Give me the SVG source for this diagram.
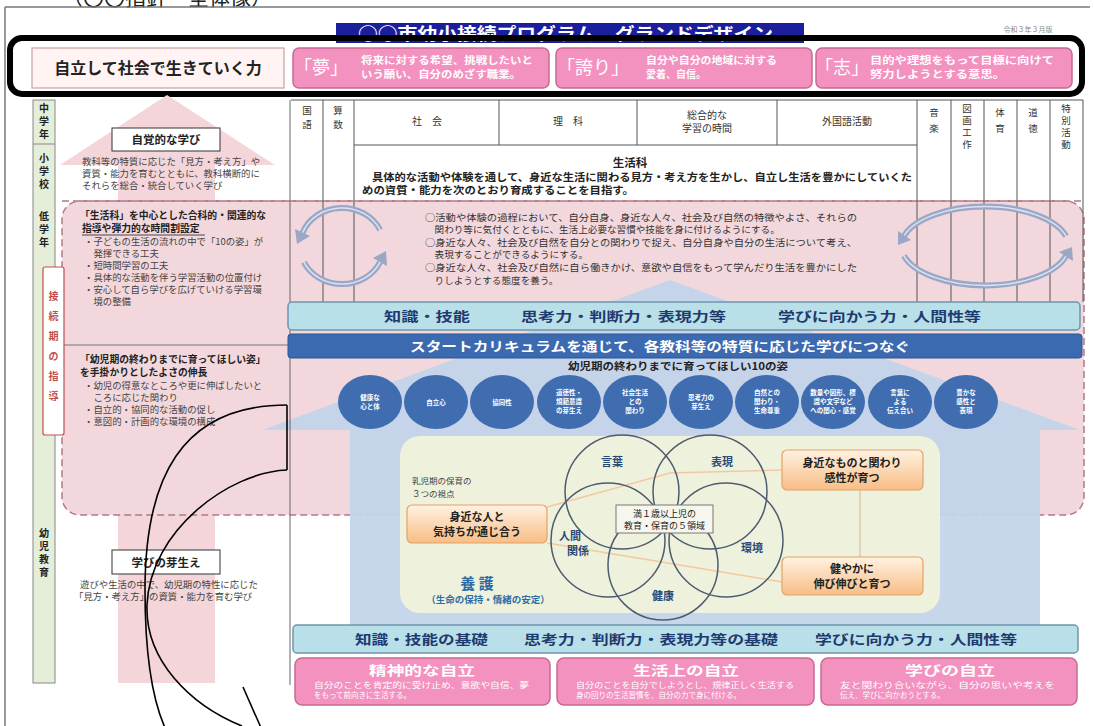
<svg xmlns="http://www.w3.org/2000/svg" width="1094" height="726" viewBox="0 0 1094 726">
<defs>
<style>
text{font-family:'Noto Sans CJK JP','Noto Sans',sans-serif;}
.b{font-weight:bold}
.dk{fill:#222}
.sm{font-size:9.4px;fill:#444}
.lh{font-size:9.8px;font-weight:bold;fill:#222}
.ob{font-size:9.6px;fill:#333}
.hd{font-size:10px;fill:#333}
.vh{font-size:9.5px;fill:#333;text-anchor:middle}
.wh{fill:#fff}
.pinkbox{fill:#f391bf;stroke:#c76a94;stroke-width:1.5}
.lbar{fill:#b9dfe9;stroke:#6f95ad;stroke-width:1.5}
.bt{font-size:13px;font-weight:bold;fill:#1e3a6e}
.circ{fill:#3f6db0}
.ctx{font-size:6.5px;fill:#fff;font-weight:bold;text-anchor:middle}
.venn{fill:none;stroke:#4d5b70;stroke-width:1.5}
.vl{font-size:11px;font-weight:bold;fill:#2a4a78;text-anchor:middle}
.orange{fill:url(#og);stroke:#e5a265;stroke-width:1.2}
.ot{font-size:11px;font-weight:bold;fill:#222;text-anchor:middle}
.col{stroke:#555;stroke-width:1;fill:none}
.cyc{fill:none;stroke:#9aa7c6;stroke-width:6}
.cyc2{fill:none;stroke:#dde3f0;stroke-width:1.5}
.ah{fill:#9aa7c6}
.blk{fill:none;stroke:#000;stroke-width:1.6}
.pt{font-size:10px;font-weight:bold;fill:#fff}
</style>
<linearGradient id="og" x1="0" y1="0" x2="0" y2="1">
<stop offset="0" stop-color="#fff2e2"/>
<stop offset="1" stop-color="#f8bd85"/>
</linearGradient>
</defs>
<rect width="1094" height="726" fill="#fff"/>

<g id="frame">
<text x="62" y="5" font-size="21" fill="#222">（〇〇指針　全体像）</text>
<line x1="5" y1="7" x2="1090" y2="7" stroke="#777" stroke-width="1.5"/>
<line x1="5" y1="7" x2="5" y2="726" stroke="#777" stroke-width="1.5"/>
</g>

<g id="banner">
<rect x="336" y="23" width="468" height="20" fill="#1c1f9c"/>
<text x="358" y="40" font-size="17" class="b wh" textLength="415" lengthAdjust="spacingAndGlyphs">○○市幼小接続プログラム　グランドデザイン</text>
<text x="1028" y="32" font-size="7" fill="#888" text-anchor="middle">令和３年３月版</text>
</g>

<g id="top-goal">
<rect x="32" y="48" width="252" height="40" fill="#fff3f3" stroke="#c9a0a0" stroke-width="1.2"/>
<text x="158" y="74" font-size="16" class="b dk" text-anchor="middle">自立して社会で生きていく力</text>
</g>
<g id="yume">
<rect class="pinkbox" x="293" y="48" width="256" height="40" rx="6"/>
<text x="294" y="74" font-size="18" class="wh">「夢」</text>
<text x="361" y="64" class="pt" textLength="172" lengthAdjust="spacingAndGlyphs">将来に対する希望、挑戦したいと</text>
<text x="361" y="78" class="pt" textLength="160" lengthAdjust="spacingAndGlyphs">いう願い、自分のめざす職業。</text>
</g>
<g id="hokori">
<rect class="pinkbox" x="556" y="48" width="256" height="40" rx="6"/>
<text x="557" y="74" font-size="18" class="wh">「誇り」</text>
<text x="646" y="64" class="pt" textLength="131" lengthAdjust="spacingAndGlyphs">自分や自分の地域に対する</text>
<text x="646" y="78" class="pt">愛着、自信。</text>
</g>
<g id="kokorozashi">
<rect class="pinkbox" x="816" y="48" width="256" height="40" rx="6"/>
<text x="815" y="74" font-size="18" class="wh">「志」</text>
<text x="870" y="64" class="pt" textLength="184" lengthAdjust="spacingAndGlyphs">目的や理想をもって目標に向けて</text>
<text x="870" y="78" class="pt" textLength="135" lengthAdjust="spacingAndGlyphs">努力しようとする意思。</text>
</g>
<rect id="highlight" x="10" y="38" width="1072" height="56" rx="12" fill="none" stroke="#000" stroke-width="6"/>

<g id="pink-arrow">
<polygon points="167,95 275,165 215,165 215,683 118,683 118,165 60,165" fill="#f4d6da"/>
</g>
<g id="link-region">
<rect x="62" y="201" width="1022" height="314" rx="18" fill="#f2d8dc" stroke="#b07a86" stroke-width="1.5" stroke-dasharray="7 4"/>
<line x1="62" y1="345" x2="290" y2="345" stroke="#777" stroke-width="1"/>
</g>
<g id="blue-arrow">
<polygon points="670,280 1080,430 1040,430 1040,625 350,625 350,430 262,430" fill="#c3d4ea" fill-opacity="0.95"/>
</g>

<g id="stage-column">
<rect x="33" y="100" width="22" height="583" fill="#e5eed9" stroke="#888" stroke-width="1"/>
<line x1="33" y1="144" x2="55" y2="144" stroke="#888"/>
<text class="b dk" font-size="10" text-anchor="middle"><tspan x="44" y="112">中</tspan><tspan x="44" y="125">学</tspan><tspan x="44" y="138">年</tspan></text>
<text class="b dk" font-size="10" text-anchor="middle"><tspan x="44" y="162">小</tspan><tspan x="44" y="175">学</tspan><tspan x="44" y="188">校</tspan></text>
<text class="b dk" font-size="10" text-anchor="middle"><tspan x="44" y="220">低</tspan><tspan x="44" y="233">学</tspan><tspan x="44" y="246">年</tspan></text>
<text class="b dk" font-size="10" text-anchor="middle"><tspan x="44" y="537">幼</tspan><tspan x="44" y="550">児</tspan><tspan x="44" y="563">教</tspan><tspan x="44" y="576">育</tspan></text>
<rect x="43" y="267" width="21" height="168" rx="2" fill="#fff" stroke="#c0504d" stroke-width="1.2"/>
<text class="b" font-size="10" fill="#c0504d" text-anchor="middle"><tspan x="53.5" y="300">接</tspan><tspan x="53.5" y="320">続</tspan><tspan x="53.5" y="340">期</tspan><tspan x="53.5" y="360">の</tspan><tspan x="53.5" y="380">指</tspan><tspan x="53.5" y="400">導</tspan></text>
</g>
<line x1="290" y1="100" x2="290" y2="685" stroke="#666" stroke-width="1"/>

<g id="jikakuteki">
<rect x="112" y="128" width="108" height="23" fill="#fff" stroke="#333" stroke-width="1"/>
<text x="166" y="144" font-size="11.5" class="b dk" text-anchor="middle">自覚的な学び</text>
<text x="82" y="165" class="sm">教科等の特質に応じた「見方・考え方」や</text>
<text x="82" y="177" class="sm">資質・能力を育むとともに、教科横断的に</text>
<text x="82" y="189" class="sm">それらを総合・統合していく学び</text>
</g>

<g id="seikatsuka-left">
<text x="80" y="219" class="lh">「生活科」を中心とした合科的・関連的な</text>
<text x="82" y="232" class="lh">指導や弾力的な時間割設定</text>
<line x1="82" y1="235" x2="205" y2="235" stroke="#222" stroke-width="0.8"/>
<text x="84" y="245" class="sm">・子どもの生活の流れの中で「10の姿」が</text>
<text x="84" y="257" class="sm">　発揮できる工夫</text>
<text x="84" y="269" class="sm">・短時間学習の工夫</text>
<text x="84" y="281" class="sm">・具体的な活動を伴う学習活動の位置付け</text>
<text x="84" y="293" class="sm">・安心して自ら学びを広げていける学習環</text>
<text x="84" y="305" class="sm">　境の整備</text>
</g>

<g id="yoji-left">
<text x="80" y="363" class="lh">「幼児期の終わりまでに育ってほしい姿」</text>
<text x="80" y="376" class="lh">を手掛かりとしたよさの伸長</text>
<text x="84" y="389" class="sm">・幼児の得意なところや更に伸ばしたいと</text>
<text x="84" y="401" class="sm">　ころに応じた関わり</text>
<text x="84" y="413" class="sm">・自立的・協同的な活動の促し</text>
<text x="84" y="425" class="sm">・意図的・計画的な環境の構成</text>
</g>

<g id="manabi-mebae">
<rect x="112" y="550" width="108" height="24" fill="#fff" stroke="#333" stroke-width="1"/>
<text x="166" y="567" font-size="11.5" class="b dk" text-anchor="middle">学びの芽生え</text>
<text x="80" y="588" class="sm">遊びや生活の中で、幼児期の特性に応じた</text>
<text x="74" y="600" class="sm">「見方・考え方」の資質・能力を育む学び</text>
</g>

<g id="subjects">
<rect x="291" y="100" width="792" height="100" fill="#fff"/>
<line class="col" x1="291" y1="100" x2="1083" y2="100"/>
<line class="col" x1="354" y1="145" x2="917" y2="145"/>
<line class="col" x1="323" y1="100" x2="323" y2="302"/>
<line class="col" x1="354" y1="100" x2="354" y2="302"/>
<line class="col" x1="499" y1="100" x2="499" y2="145"/>
<line class="col" x1="637" y1="100" x2="637" y2="145"/>
<line class="col" x1="777" y1="100" x2="777" y2="145"/>
<line class="col" x1="917" y1="100" x2="917" y2="302"/>
<line class="col" x1="951" y1="100" x2="951" y2="302"/>
<line class="col" x1="984" y1="100" x2="984" y2="302"/>
<line class="col" x1="1017" y1="100" x2="1017" y2="302"/>
<line class="col" x1="1050" y1="100" x2="1050" y2="302"/>
<line class="col" x1="1083" y1="100" x2="1083" y2="302"/>
<text class="vh"><tspan x="307" y="114">国</tspan><tspan x="307" y="128">語</tspan></text>
<text class="vh"><tspan x="338" y="114">算</tspan><tspan x="338" y="128">数</tspan></text>
<text x="427" y="125" class="hd" text-anchor="middle">社　会</text>
<text x="568" y="125" class="hd" text-anchor="middle">理　科</text>
<text x="707" y="119" class="hd" text-anchor="middle">総合的な</text>
<text x="707" y="132" class="hd" text-anchor="middle">学習の時間</text>
<text x="847" y="125" class="hd" text-anchor="middle">外国語活動</text>
<text class="vh"><tspan x="934" y="116">音</tspan><tspan x="934" y="132">楽</tspan></text>
<text class="vh"><tspan x="967" y="112">図</tspan><tspan x="967" y="124">画</tspan><tspan x="967" y="136">工</tspan><tspan x="967" y="148">作</tspan></text>
<text class="vh"><tspan x="1000" y="116">体</tspan><tspan x="1000" y="132">育</tspan></text>
<text class="vh"><tspan x="1033" y="116">道</tspan><tspan x="1033" y="132">徳</tspan></text>
<text class="vh"><tspan x="1066" y="112">特</tspan><tspan x="1066" y="124">別</tspan><tspan x="1066" y="136">活</tspan><tspan x="1066" y="148">動</tspan></text>
<text x="630" y="167" font-size="11.5" class="b dk" text-anchor="middle">生活科</text>
<text x="372" y="181" font-size="10.5" class="b dk" textLength="540" lengthAdjust="spacingAndGlyphs">具体的な活動や体験を通して、身近な生活に関わる見方・考え方を生かし、自立し生活を豊かにしていくた</text>
<text x="362" y="194" font-size="10.5" class="b dk" textLength="272" lengthAdjust="spacingAndGlyphs">めの資質・能力を次のとおり育成することを目指す。</text>
</g>
<line x1="62" y1="201" x2="1084" y2="201" stroke="#b07a86" stroke-width="1.5" stroke-dasharray="7 4"/>

<g id="objectives">
<text x="425" y="221" class="ob" textLength="432" lengthAdjust="spacingAndGlyphs">○活動や体験の過程において、自分自身、身近な人々、社会及び自然の特徴やよさ、それらの</text>
<text x="425" y="233" class="ob">　関わり等に気付くとともに、生活上必要な習慣や技能を身に付けるようにする。</text>
<text x="425" y="246" class="ob" textLength="432" lengthAdjust="spacingAndGlyphs">○身近な人々、社会及び自然を自分との関わりで捉え、自分自身や自分の生活について考え、</text>
<text x="425" y="258" class="ob">　表現することができるようにする。</text>
<text x="425" y="271" class="ob" textLength="432" lengthAdjust="spacingAndGlyphs">○身近な人々、社会及び自然に自ら働きかけ、意欲や自信をもって学んだり生活を豊かにした</text>
<text x="425" y="284" class="ob">　りしようとする態度を養う。</text>
</g>

<g id="cycle-left">
<path class="cyc" d="M380.1,229.9 A42,38 0 0,0 302.5,233.0"/>
<path class="cyc" d="M303.9,262.1 A42,38 0 0,0 380.1,262.1"/>
<path class="cyc2" d="M380.1,229.9 A42,38 0 0,0 302.5,233.0"/>
<path class="cyc2" d="M303.9,262.1 A42,38 0 0,0 380.1,262.1"/>
<polygon class="ah" points="297,244 310,236 295,229"/>
<polygon class="ah" points="386,251 387,266 373,258"/>
</g>
<g id="cycle-right">
<path class="cyc" d="M1066.1,236.2 A84,40 0 0,0 903.9,236.2"/>
<path class="cyc" d="M903.9,255.8 A84,40 0 0,0 1066.1,255.8"/>
<path class="cyc2" d="M1066.1,236.2 A84,40 0 0,0 903.9,236.2"/>
<path class="cyc2" d="M903.9,255.8 A84,40 0 0,0 1066.1,255.8"/>
<polygon class="ah" points="898,245 911,240 898,231"/>
<polygon class="ah" points="1072,247 1073,261 1059,252"/>
</g>

<g id="bar-top">
<rect class="lbar" x="288" y="302" width="792" height="28" rx="4"/>
<text x="384" y="321" class="bt" textLength="86" lengthAdjust="spacingAndGlyphs">知識・技能</text>
<text x="521" y="321" class="bt" textLength="205" lengthAdjust="spacingAndGlyphs">思考力・判断力・表現力等</text>
<text x="778" y="321" class="bt" textLength="203" lengthAdjust="spacingAndGlyphs">学びに向かう力・人間性等</text>
</g>
<g id="start-curriculum">
<rect x="288" y="334" width="794" height="24" rx="3" fill="#3c6ab0" stroke="#2d558f" stroke-width="1"/>
<text x="410" y="351" font-size="13" class="b wh" textLength="500" lengthAdjust="spacingAndGlyphs">スタートカリキュラムを通じて、各教科等の特質に応じた学びにつなぐ</text>
</g>
<text x="568" y="370" font-size="10" class="b dk" textLength="220" lengthAdjust="spacingAndGlyphs">幼児期の終わりまでに育ってほしい10の姿</text>

<g id="ten-circles">
<g id="c1"><ellipse class="circ" cx="370" cy="402" rx="32" ry="27"/><text class="ctx"><tspan x="370" y="400">健康な</tspan><tspan x="370" y="409">心と体</tspan></text></g>
<g id="c2"><ellipse class="circ" cx="436" cy="402" rx="32" ry="27"/><text class="ctx" x="436" y="405">自立心</text></g>
<g id="c3"><ellipse class="circ" cx="502" cy="402" rx="32" ry="27"/><text class="ctx" x="502" y="405">協同性</text></g>
<g id="c4"><ellipse class="circ" cx="569" cy="402" rx="32" ry="27"/><text class="ctx"><tspan x="569" y="395">道徳性・</tspan><tspan x="569" y="404">規範意識</tspan><tspan x="569" y="413">の芽生え</tspan></text></g>
<g id="c5"><ellipse class="circ" cx="635" cy="402" rx="32" ry="27"/><text class="ctx"><tspan x="635" y="395">社会生活</tspan><tspan x="635" y="404">との</tspan><tspan x="635" y="413">関わり</tspan></text></g>
<g id="c6"><ellipse class="circ" cx="701" cy="402" rx="32" ry="27"/><text class="ctx"><tspan x="701" y="400">思考力の</tspan><tspan x="701" y="409">芽生え</tspan></text></g>
<g id="c7"><ellipse class="circ" cx="767" cy="402" rx="32" ry="27"/><text class="ctx"><tspan x="767" y="395">自然との</tspan><tspan x="767" y="404">関わり・</tspan><tspan x="767" y="413">生命尊重</tspan></text></g>
<g id="c8"><ellipse class="circ" cx="833" cy="402" rx="32" ry="27"/><text class="ctx" font-size="6"><tspan x="833" y="395">数量や図形、標</tspan><tspan x="833" y="404">識や文字など</tspan><tspan x="833" y="413">への関心・感覚</tspan></text></g>
<g id="c9"><ellipse class="circ" cx="900" cy="402" rx="32" ry="27"/><text class="ctx"><tspan x="900" y="395">言葉に</tspan><tspan x="900" y="404">よる</tspan><tspan x="900" y="413">伝え合い</tspan></text></g>
<g id="c10"><ellipse class="circ" cx="966" cy="402" rx="32" ry="27"/><text class="ctx"><tspan x="966" y="395">豊かな</tspan><tspan x="966" y="404">感性と</tspan><tspan x="966" y="413">表現</tspan></text></g>
</g>

<g id="infant-area">
<rect x="400" y="436" width="540" height="177" rx="20" fill="#eef1dc"/>
<text x="412" y="484" font-size="8.5" fill="#444">乳児期の保育の</text>
<text x="412" y="497" font-size="8.5" fill="#444">３つの視点</text>
<text x="477" y="589" font-size="15" class="b" fill="#2d6da3" text-anchor="middle">養 護</text>
<text x="488" y="603" font-size="9.5" class="b" fill="#2d6da3" text-anchor="middle">（生命の保持・情緒の安定）</text>
</g>
<g id="connectors">
<polyline points="547,507 670,473 782,470" fill="none" stroke="#f1c9a0" stroke-width="1.3"/>
<line x1="547" y1="543" x2="782" y2="582" stroke="#f1c9a0" stroke-width="1.3"/>
<line x1="860" y1="490" x2="860" y2="557" stroke="#d9c3a3" stroke-width="1.3"/>
</g>
<g id="venn">
<circle class="venn" cx="622" cy="492" r="57"/>
<circle class="venn" cx="710" cy="492" r="57"/>
<circle class="venn" cx="608" cy="540" r="57"/>
<circle class="venn" cx="726" cy="540" r="57"/>
<circle class="venn" cx="663" cy="565" r="55"/>
<text class="vl" x="612" y="466">言葉</text>
<text class="vl" x="722" y="466">表現</text>
<text class="vl" x="570" y="540">人間</text>
<text class="vl" x="578" y="555">関係</text>
<text class="vl" x="752" y="552">環境</text>
<text class="vl" x="663" y="600">健康</text>
</g>
<g id="five-areas">
<rect x="616" y="505" width="97" height="28" fill="#f6f6ee" stroke="#777" stroke-width="1"/>
<text x="664.5" y="517" font-size="9" fill="#222" text-anchor="middle">満１歳以上児の</text>
<text x="664.5" y="529" font-size="9" fill="#222" text-anchor="middle">教育・保育の５領域</text>
</g>
<g id="o-left">
<rect class="orange" x="407" y="505" width="140" height="38" rx="5"/>
<text class="ot" x="477" y="521">身近な人と</text>
<text class="ot" x="477" y="536">気持ちが通じ合う</text>
</g>
<g id="o-right1">
<rect class="orange" x="782" y="450" width="141" height="40" rx="5"/>
<text class="ot" x="852" y="467">身近なものと関わり</text>
<text class="ot" x="852" y="482">感性が育つ</text>
</g>
<g id="o-right2">
<rect class="orange" x="782" y="557" width="141" height="38" rx="5"/>
<text class="ot" x="852" y="573">健やかに</text>
<text class="ot" x="852" y="588">伸び伸びと育つ</text>
</g>

<g id="bar-bottom">
<rect class="lbar" x="293" y="625" width="785" height="28" rx="4"/>
<text x="355" y="644" class="bt" textLength="133" lengthAdjust="spacingAndGlyphs">知識・技能の基礎</text>
<text x="524" y="644" class="bt" textLength="254" lengthAdjust="spacingAndGlyphs">思考力・判断力・表現力等の基礎</text>
<text x="815" y="644" class="bt" textLength="202" lengthAdjust="spacingAndGlyphs">学びに向かう力・人間性等</text>
</g>
<g id="b1">
<rect class="pinkbox" x="295" y="658" width="255" height="47" rx="7"/>
<text x="369" y="675" font-size="13" class="b wh" textLength="106" lengthAdjust="spacingAndGlyphs">精神的な自立</text>
<text x="314" y="688" font-size="7.5" class="wh" textLength="215" lengthAdjust="spacingAndGlyphs">自分のことを肯定的に受け止め、意欲や自信、夢</text>
<text x="314" y="698" font-size="7.5" class="wh">をもって前向きに生活する。</text>
</g>
<g id="b2">
<rect class="pinkbox" x="557" y="658" width="257" height="47" rx="7"/>
<text x="633" y="675" font-size="13" class="b wh" textLength="106" lengthAdjust="spacingAndGlyphs">生活上の自立</text>
<text x="576" y="688" font-size="7.5" class="wh" textLength="218" lengthAdjust="spacingAndGlyphs">自分のことを自分でしようとし、規律正しく生活する</text>
<text x="576" y="698" font-size="7.5" class="wh">身の回りの生活習慣を、自分の力で身に付ける。</text>
</g>
<g id="b3">
<rect class="pinkbox" x="821" y="658" width="256" height="47" rx="7"/>
<text x="905" y="675" font-size="13" class="b wh" textLength="90" lengthAdjust="spacingAndGlyphs">学びの自立</text>
<text x="840" y="688" font-size="7.5" class="wh" textLength="215" lengthAdjust="spacingAndGlyphs">友と関わり合いながら、自分の思いや考えを</text>
<text x="840" y="698" font-size="7.5" class="wh">伝え、学びに向かおうとする。</text>
</g>

<g id="curved-arrow">
<path class="blk" d="M287,405 L287,470"/>
<path class="blk" d="M287,405 C180,405 145,480 145,590 C145,650 152,700 166,730"/>
<path class="blk" d="M287,470 C230,472 150,530 147,605 C145,660 190,705 242,726"/>
<path class="blk" d="M243,687 L262,730"/>
</g>
</svg>
